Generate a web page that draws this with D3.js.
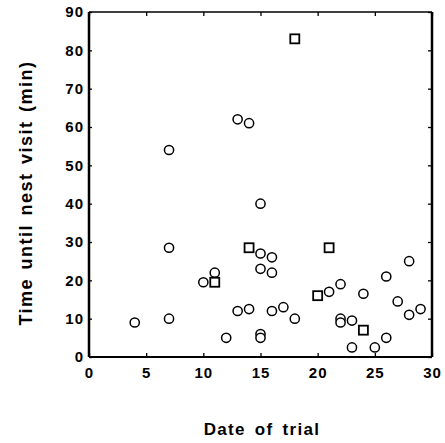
<!DOCTYPE html>
<html>
<head>
<meta charset="utf-8">
<script src="https://cdn.jsdelivr.net/npm/d3@7/dist/d3.min.js"></script>
<style>
  body { margin: 0; background: #fff; }
  svg { display: block; font-family: "Liberation Sans", Arial, sans-serif; }
</style>
</head>
<body>
<div id="chart"></div>
<script>
// circles: trial date / minutes until nest visit
var circleDays = [4, 7, 7, 7, 10, 11, 12, 13, 13, 14, 14, 15, 15, 15, 15, 15, 16, 16, 16, 17, 18, 21, 22, 22, 22, 23, 23, 24, 25, 26, 26, 27, 28, 28, 29];
var circleMins = [9, 10, 28.5, 54, 19.5, 22, 5, 12, 62, 12.5, 61, 40, 27, 23, 6, 5, 26, 22, 12, 13, 10, 17, 19, 10, 9, 9.5, 2.5, 16.5, 2.5, 5, 21, 14.5, 25, 11, 12.5];
// squares
var squareDays = [11, 14, 18, 20, 21, 24];
var squareMins = [19.5, 28.5, 83, 16, 28.5, 7];

var xTicks = [0, 5, 10, 15, 20, 25, 30];
var yTicks = [0, 10, 20, 30, 40, 50, 60, 70, 80, 90];

var width = 445, height = 443;
var margin = { left: 89, right: 13, top: 12, bottom: 86 };

var svg = d3.select("#chart").append("svg")
    .attr("width", width)
    .attr("height", height);

var x = d3.scaleLinear().domain([0, 30]).range([margin.left, width - margin.right]);
var y = d3.scaleLinear().domain([0, 90]).range([height - margin.bottom, margin.top]);

var tickFont = function (g) {
    g.attr("font-family", null);
    g.selectAll("text")
        .style("font-family", "'Liberation Sans', Arial, sans-serif")
        .style("font-size", "15px")
        .style("font-weight", "bold")
        .style("letter-spacing", "1px")
        .attr("fill", "#000");
    g.selectAll("line").attr("stroke", "#000").attr("stroke-width", 1.3);
    g.select(".domain").remove();
};

// bottom axis, labels below, ticks pointing in
svg.append("g")
    .attr("transform", "translate(0," + y(0) + ")")
    .call(d3.axisBottom(x).tickValues(xTicks).tickSize(-4).tickPadding(10))
    .call(tickFont);

// left axis
svg.append("g")
    .attr("transform", "translate(" + x(0) + ",0)")
    .call(d3.axisLeft(y).tickValues(yTicks).tickSize(-3).tickPadding(5))
    .call(tickFont);

// top and right inward ticks
svg.append("g")
    .attr("transform", "translate(0," + y(90) + ")")
    .call(d3.axisTop(x).tickValues(xTicks).tickSize(-4).tickFormat(""))
    .call(tickFont);
svg.append("g")
    .attr("transform", "translate(" + x(30) + ",0)")
    .call(d3.axisRight(y).tickValues(yTicks).tickSize(-4).tickFormat(""))
    .call(tickFont);

// frame
svg.append("line").attr("x1", x(0)).attr("x2", x(0)).attr("y1", y(0)).attr("y2", y(90))
    .attr("stroke", "#000").attr("stroke-width", 2.5);
svg.append("line").attr("x1", x(30)).attr("x2", x(30)).attr("y1", y(0)).attr("y2", y(90))
    .attr("stroke", "#000").attr("stroke-width", 2.5);
svg.append("line").attr("x1", x(0)).attr("x2", x(30)).attr("y1", y(90)).attr("y2", y(90))
    .attr("stroke", "#000").attr("stroke-width", 1.5);
svg.append("line").attr("x1", x(0)).attr("x2", x(30)).attr("y1", y(0)).attr("y2", y(0))
    .attr("stroke", "#000").attr("stroke-width", 1.8);

// points
svg.selectAll(".circ")
    .data(circleDays)
    .enter().append("circle")
    .attr("class", "circ")
    .attr("cx", function (d) { return x(d); })
    .attr("cy", function (d, i) { return y(circleMins[i]); })
    .attr("r", 4.6)
    .attr("fill", "#fff")
    .attr("stroke", "#000")
    .attr("stroke-width", 1.5);

svg.selectAll(".sq")
    .data(squareDays)
    .enter().append("rect")
    .attr("class", "sq")
    .attr("x", function (d) { return x(d) - 4.5; })
    .attr("y", function (d, i) { return y(squareMins[i]) - 4.5; })
    .attr("width", 9)
    .attr("height", 9)
    .attr("fill", "#fff")
    .attr("stroke", "#000")
    .attr("stroke-width", 1.8);

// titles
svg.append("text")
    .attr("x", 262)
    .attr("y", 435)
    .attr("text-anchor", "middle")
    .style("font-size", "17px")
    .style("font-weight", "bold")
    .style("letter-spacing", "1.3px")
    .style("word-spacing", "3px")
    .text("Date of trial");

svg.append("text")
    .attr("transform", "translate(32,193) rotate(-90)")
    .attr("text-anchor", "middle")
    .style("font-size", "18px")
    .style("font-weight", "bold")
    .style("letter-spacing", "1.5px")
    .style("word-spacing", "2px")
    .text("Time until nest visit (min)");
</script>
</body>
</html>
